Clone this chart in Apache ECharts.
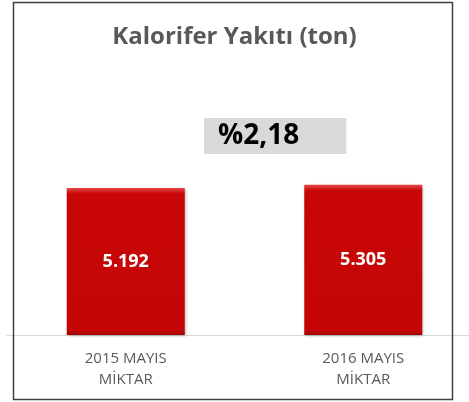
<!DOCTYPE html>
<html>
<head>
<meta charset="utf-8">
<script src="https://cdn.jsdelivr.net/npm/echarts@6/dist/echarts.min.js"></script>
<style>
  html, body { margin: 0; padding: 0; background: #fff; }
  #chart { width: 469px; height: 402px; }
</style>
</head>
<body>
<div id="chart"></div>
<script>
// veriler
const categories = ['2015 MAYIS\nMİKTAR', '2016 MAYIS\nMİKTAR']
const values = [5192, 5305]
const changeText = '%2,18'

const chart = echarts.init(document.getElementById('chart'))

const barColor = {
  type: 'linear', x: 0, y: 0, x2: 0, y2: 1,
  colorStops: [
    { offset: 0, color: '#e84a4a' },
    { offset: 0.04, color: '#c80606' },
    { offset: 0.97, color: '#c50505' },
    { offset: 1, color: '#9e0000' }
  ]
}

const option = {
  backgroundColor: '#fff',
  animation: false,
  title: [
    {
      text: 'Kalorifer Yakıtı (ton)',
      left: 'center',
      top: 20,
      textStyle: {
        fontFamily: 'Open Sans',
        fontSize: 24,
        fontWeight: 'bold',
        color: '#595959'
      }
    },
    {
      text: changeText,
      left: 204,
      top: 118,
      backgroundColor: '#d9d9d9',
      padding: [0, 47, 0, 14],
      textStyle: {
        fontFamily: 'Open Sans',
        fontSize: 28,
        lineHeight: 36,
        fontWeight: 'bold',
        color: '#000'
      }
    }
  ],
  graphic: [
    {
      type: 'rect',
      shape: { x: 13.5, y: 2.5, width: 439, height: 397 },
      style: { fill: 'none', stroke: '#404040', lineWidth: 1.5 },
      z: 100
    }
  ],
  grid: {
    left: 7,
    width: 475,
    top: 165,
    bottom: 67,
    outerBoundsMode: 'none'
  },
  xAxis: {
    type: 'category',
    data: categories,
    axisLine: { lineStyle: { color: '#d9d9d9', width: 1 } },
    axisTick: { show: false },
    axisLabel: {
      margin: 13,
      fontFamily: 'Open Sans',
      fontSize: 15,
      lineHeight: 21,
      color: '#595959'
    }
  },
  yAxis: {
    type: 'value',
    min: 0,
    max: 6000,
    show: false
  },
  series: [
    {
      type: 'bar',
      data: values,
      barWidth: 118,
      itemStyle: {
        color: barColor,
        shadowColor: 'rgba(0,0,0,0.35)',
        shadowBlur: 3,
        shadowOffsetX: 1,
        shadowOffsetY: 1
      },
      label: {
        show: true,
        position: 'inside',
        fontFamily: 'Open Sans',
        fontSize: 18,
        fontWeight: 'bold',
        color: '#fff',
        formatter: p => p.value.toLocaleString('de-DE')
      }
    }
  ]
}

chart.setOption(option)
</script>
</body>
</html>
